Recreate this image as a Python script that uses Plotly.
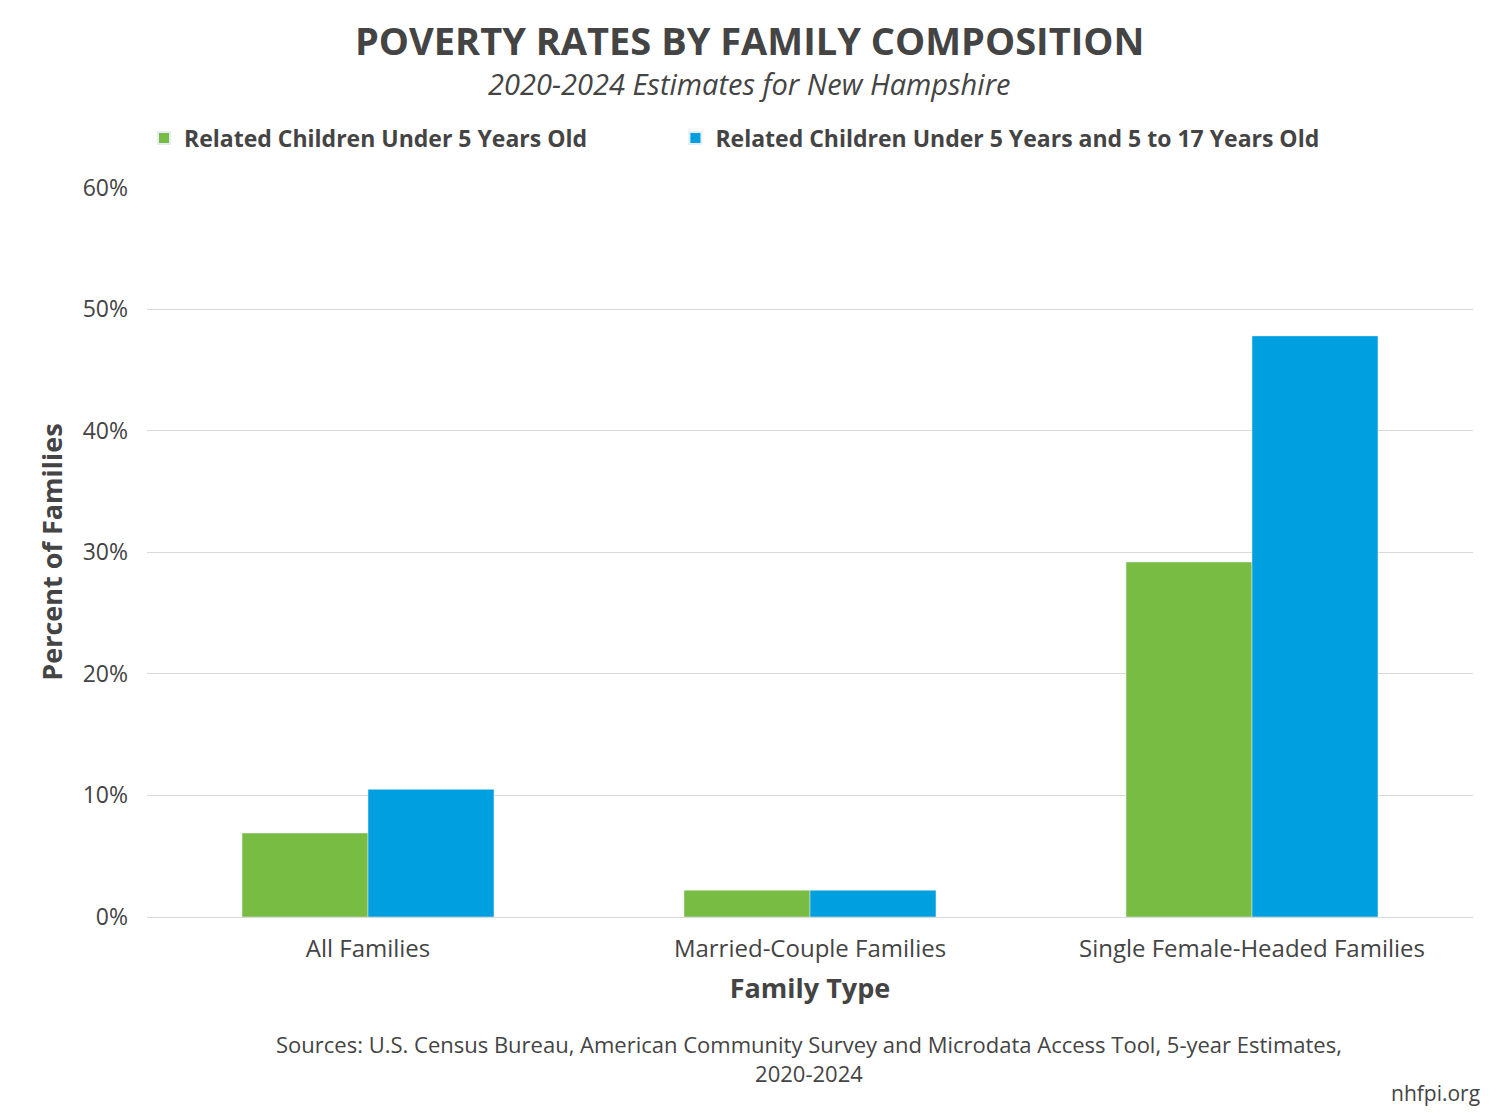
import plotly.graph_objects as go

categories = ["All Families", "Married-Couple Families", "Single Female-Headed Families"]
under5 = [6.9, 2.2, 29.2]
under5_and_5to17 = [10.5, 2.2, 47.8]
series_names = ["<b>Related Children Under 5 Years Old</b>", "<b>Related Children Under 5 Years and 5 to 17 Years Old</b>"]
tick_vals = [0, 10, 20, 30, 40, 50, 60]
tick_text = ["0%", "10%", "20%", "30%", "40%", "50%", "60%"]

FONT = "Open Sans"
C = "#444444"
fig = go.Figure()
fig.add_bar(x=categories, y=under5, name=series_names[0], marker_color="#78BC43", legend="legend")
fig.add_bar(x=categories, y=under5_and_5to17, name=series_names[1], marker_color="#009FDF", legend="legend2")

def yp(px):
    return (917 - px) / (917 - 187)
def xp(px):
    return (px - 148) / (1473 - 148)

leg = dict(orientation="h", xanchor="left", y=yp(138), yanchor="middle",
           font=dict(size=23, color=C), itemwidth=30, itemsizing="constant",
           bgcolor="rgba(0,0,0,0)")
fig.update_layout(
    width=1500, height=1114, paper_bgcolor="white", plot_bgcolor="white",
    font=dict(family=FONT, color=C, size=22),
    barmode="group", bargap=0.43, bargroupgap=0,
    margin=dict(l=139, r=35, t=179, b=205, autoexpand=False),
    showlegend=True,
    legend=dict(leg, x=xp(145)),
    legend2=dict(leg, x=xp(676)),
    xaxis=dict(title=dict(text="<b>Family Type</b>", font=dict(size=27, color=C), standoff=16),
               tickfont=dict(size=24, color=C), showline=True, linecolor="#d9d9d9", ticks="",
               ticklabelstandoff=10, automargin=False),
    yaxis=dict(range=[0, 60.05], tickvals=tick_vals, ticktext=tick_text, gridcolor="#d9d9d9",
               zeroline=False, tickfont=dict(size=23, color=C), automargin=False,
               ticklabelstandoff=18,
               title=dict(text="<b>Percent of Families</b>", font=dict(size=27, color=C), standoff=12)),
)

annots = [
    dict(text="<b>POVERTY RATES BY FAMILY COMPOSITION</b>", y=40, size=38, x=750),
    dict(text="<i>2020-2024 Estimates for New Hampshire</i>", y=84, size=29, x=750),
    dict(text="Sources: U.S. Census Bureau, American Community Survey and Microdata Access Tool, 5-year Estimates,<br>2020-2024", y=1058, size=22, x=810),
]
for a in annots:
    fig.add_annotation(text=a["text"], x=xp(a["x"]), xref="paper", xanchor="center",
                       y=yp(a["y"]), yref="paper", yanchor="middle", showarrow=False,
                       font=dict(size=a["size"], color=C))
fig.add_annotation(text="nhfpi.org", x=xp(1482), xref="paper", xanchor="right", y=yp(1093),
                   yref="paper", yanchor="middle", showarrow=False, font=dict(size=21, color=C))
fig.write_html("out.html")
